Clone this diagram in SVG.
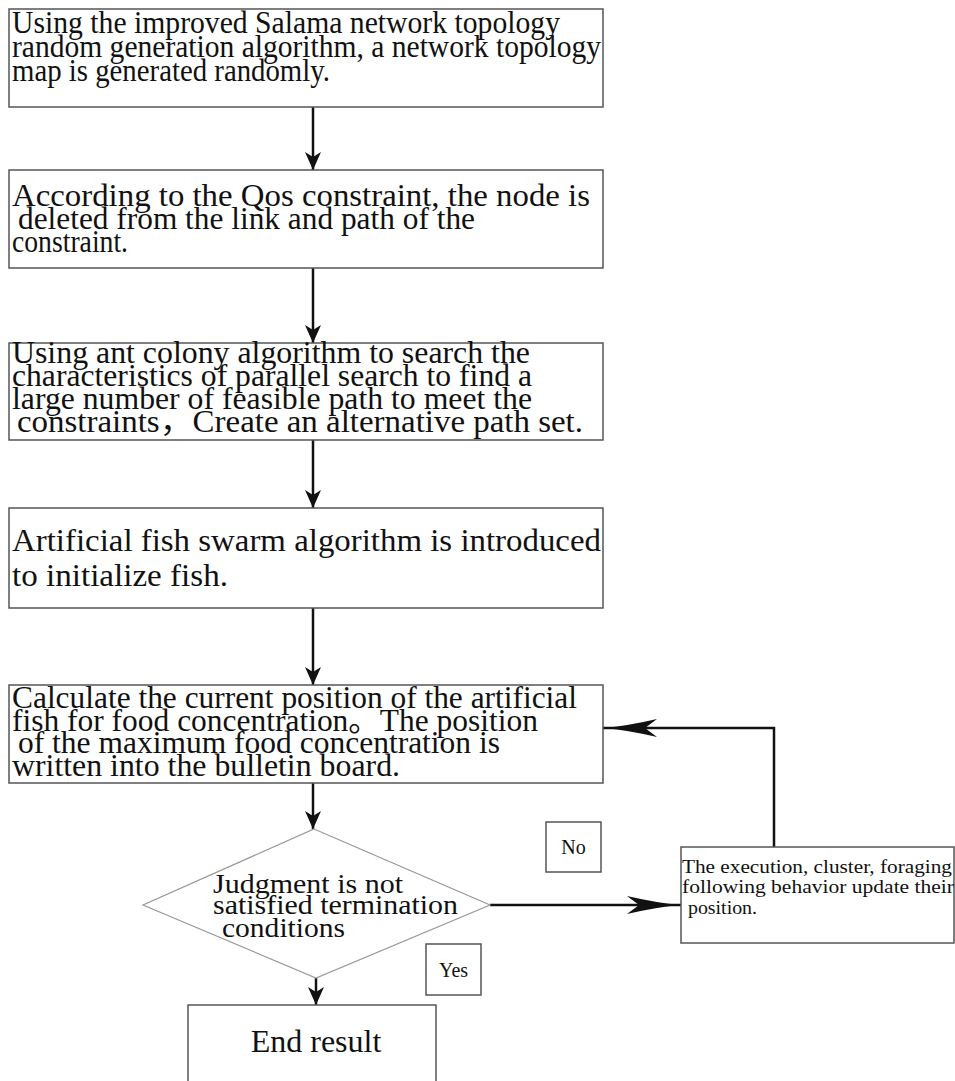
<svg xmlns="http://www.w3.org/2000/svg" width="955" height="1081" viewBox="0 0 955 1081">
<style>
.box{fill:#fff;stroke:#555;stroke-width:1.5}
.dia{fill:#fff;stroke:#999;stroke-width:1.2}
.t{font-family:"Liberation Serif","Times New Roman","Noto Sans CJK SC",serif;fill:#111}
.big{font-size:31px}
.mid{font-size:28px}
.sm{font-size:19px}
.lbl{font-size:20px}
.conn{fill:none;stroke:#111;stroke-width:2.5}
</style>
<defs>
<marker id="ah" viewBox="0 0 18 16" refX="18" refY="8" markerWidth="18" markerHeight="16" markerUnits="userSpaceOnUse" orient="auto">
<path d="M0,0 L18,8 L0,16 L5,8 z" fill="#111"/>
</marker>
<marker id="spear" viewBox="0 0 54 18" refX="54" refY="9" markerWidth="54" markerHeight="18" markerUnits="userSpaceOnUse" orient="auto">
<path d="M0,0 Q30,7 54,9 Q30,11 0,18 L12,9 z" fill="#111"/>
</marker>
</defs>

<g id="connectors">
<line class="conn" x1="313" y1="107" x2="313" y2="170" marker-end="url(#ah)"/>
<line class="conn" x1="313" y1="268" x2="313" y2="343" marker-end="url(#ah)"/>
<line class="conn" x1="313" y1="440" x2="313" y2="508" marker-end="url(#ah)"/>
<line class="conn" x1="313" y1="608" x2="313" y2="685" marker-end="url(#ah)"/>
<line class="conn" x1="313" y1="783" x2="313" y2="829" marker-end="url(#ah)"/>
<line class="conn" x1="316" y1="978" x2="316" y2="1005" marker-end="url(#ah)"/>
<line class="conn" x1="490" y1="905" x2="681" y2="905" marker-end="url(#spear)"/>
<polyline class="conn" points="774,847 774,728 603,728" marker-end="url(#spear)"/>
</g>

<g id="n1">
<rect class="box" x="9" y="9" width="594" height="98"/>
<text class="t big" x="12" y="33" textLength="548" lengthAdjust="spacingAndGlyphs">Using the improved Salama network topology</text>
<text class="t big" x="12" y="57" textLength="589" lengthAdjust="spacingAndGlyphs">random generation algorithm, a network topology</text>
<text class="t big" x="12" y="81" textLength="318" lengthAdjust="spacingAndGlyphs">map is generated randomly.</text>
</g>

<g id="n2">
<rect class="box" x="9" y="170" width="594" height="98"/>
<text class="t big" x="12" y="206" textLength="578" lengthAdjust="spacingAndGlyphs">According to the Qos constraint, the node is</text>
<text class="t big" x="18" y="229" textLength="457" lengthAdjust="spacingAndGlyphs">deleted from the link and path of the</text>
<text class="t big" x="12" y="252" textLength="116" lengthAdjust="spacingAndGlyphs">constraint.</text>
</g>

<g id="n3">
<rect class="box" x="9" y="343" width="594" height="97"/>
<text class="t big" x="12" y="363" textLength="518" lengthAdjust="spacingAndGlyphs">Using ant colony algorithm to search the</text>
<text class="t big" x="12" y="386" textLength="520" lengthAdjust="spacingAndGlyphs">characteristics of parallel search to find a</text>
<text class="t big" x="12" y="409" textLength="520" lengthAdjust="spacingAndGlyphs">large number of feasible path to meet the</text>
<text class="t big" x="17" y="432" textLength="566" lengthAdjust="spacingAndGlyphs">constraints，Create an alternative path set.</text>
</g>

<g id="n4">
<rect class="box" x="9" y="508" width="594" height="100"/>
<text class="t big" x="12" y="551" textLength="589" lengthAdjust="spacingAndGlyphs">Artificial fish swarm algorithm is introduced</text>
<text class="t big" x="12" y="586" textLength="216" lengthAdjust="spacingAndGlyphs">to initialize fish.</text>
</g>

<g id="n5">
<rect class="box" x="9" y="685" width="594" height="98"/>
<text class="t big" x="12" y="708" textLength="565" lengthAdjust="spacingAndGlyphs">Calculate the current position of the artificial</text>
<text class="t big" x="12" y="731" textLength="526" lengthAdjust="spacingAndGlyphs">fish for food concentration。The position</text>
<text class="t big" x="18" y="753" textLength="482" lengthAdjust="spacingAndGlyphs">of the maximum food concentration is</text>
<text class="t big" x="12" y="776" textLength="388" lengthAdjust="spacingAndGlyphs">written into the bulletin board.</text>
</g>

<g id="decision">
<polygon class="dia" points="314,829 490,905 316,978 143,905"/>
<text class="t mid" x="213" y="893" textLength="190" lengthAdjust="spacingAndGlyphs">Judgment is not</text>
<text class="t mid" x="213" y="914" textLength="245" lengthAdjust="spacingAndGlyphs">satisfied termination</text>
<text class="t mid" x="222" y="937" textLength="123" lengthAdjust="spacingAndGlyphs">conditions</text>
</g>

<g id="no-label">
<rect class="box" x="546" y="822" width="55" height="50"/>
<text class="t lbl" x="573.5" y="854" text-anchor="middle">No</text>
</g>

<g id="yes-label">
<rect class="box" x="426" y="944" width="55" height="51"/>
<text class="t lbl" x="453.5" y="977" text-anchor="middle">Yes</text>
</g>

<g id="update">
<rect class="box" x="681" y="847" width="273" height="96"/>
<text class="t sm" x="682" y="873" textLength="270" lengthAdjust="spacingAndGlyphs">The execution, cluster, foraging</text>
<text class="t sm" x="682" y="893" textLength="272" lengthAdjust="spacingAndGlyphs">following behavior update their</text>
<text class="t sm" x="688" y="914" textLength="69" lengthAdjust="spacingAndGlyphs">position.</text>
</g>

<g id="end">
<rect class="box" x="188" y="1005" width="248" height="100"/>
<text class="t" x="316" y="1052" font-size="32" text-anchor="middle">End result</text>
</g>
</svg>
